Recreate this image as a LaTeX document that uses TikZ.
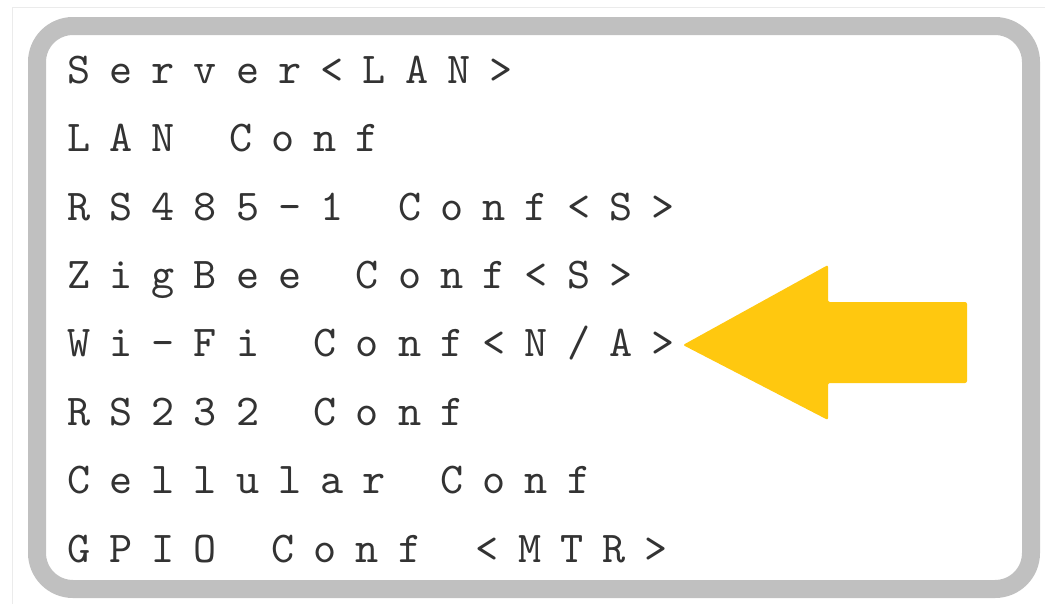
\documentclass[tikz,border=0pt]{standalone}
\usepackage{xcolor}
\usepackage{fontspec}
\usepackage{tikz}
\newfontfamily\menufont[LetterSpace=43.5, WordSpace=1.29]{lmmono10-regular.otf}
\definecolor{framegray}{HTML}{C0C0C0}
\definecolor{arrowyellow}{HTML}{FFC80F}
\tikzset{
  menuline/.style={anchor=base west, inner sep=0pt, text=black!80,
    font=\menufont\fontsize{44}{50}\selectfont}
}

\begin{document}
\begin{tikzpicture}[x=1pt,y=-1pt]
\useasboundingbox[fill=white] (0,0) rectangle (1045,603);
\draw[black!8, line width=1pt] (12,7) rectangle (1050,610);
\draw[framegray, line width=18pt, rounded corners=36pt, fill=white] (37,26) rectangle (1031,589);

\node[menuline] (server) at (67,83) {Server<LAN>};
\node[menuline] (lan) at (67,151.5) {LAN Conf};
\node[menuline] (rs485) at (67,220) {RS485-1 Conf<S>};
\node[menuline] (zigbee) at (67,288) {ZigBee Conf<S>};
\node[menuline] (wifi) at (67,356.5) {Wi-Fi Conf<N/A>};
\node[menuline] (rs232) at (67,425) {RS232 Conf};
\node[menuline] (cellular) at (67,493.5) {Cellular Conf};
\node[menuline] (gpio) at (67,562) {GPIO Conf <MTR>};

\fill[arrowyellow, rounded corners=2pt] (683,345) -- (828,265) -- (828,302) -- (967,302)
  -- (967,383) -- (828,383) -- (828,420) -- cycle;
\end{tikzpicture}
\end{document}
